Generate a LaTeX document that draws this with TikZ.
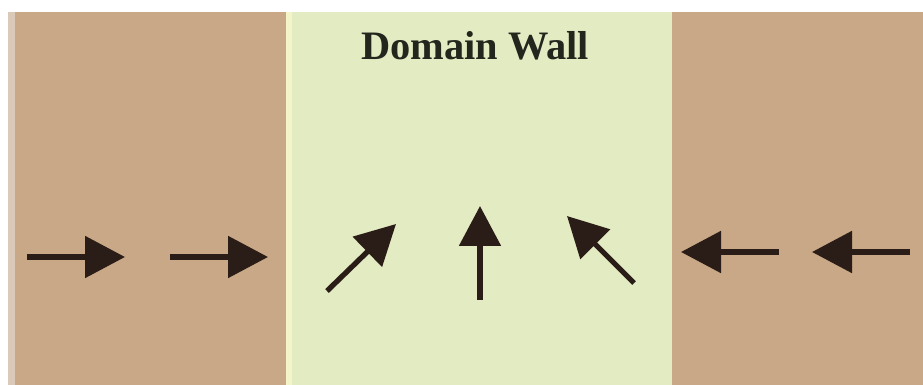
\documentclass[tikz,border=0pt]{standalone}
\usepackage{fontspec}
\setmainfont{Liberation Serif}
\usetikzlibrary{arrows.meta}

\definecolor{tan}{HTML}{C9A887}
\definecolor{wallgreen}{HTML}{E3EBC2}
\definecolor{spin}{HTML}{2A1C16}
\definecolor{titleink}{HTML}{22261C}

\begin{document}
\begin{tikzpicture}[x=0.02cm, y=-0.02cm,
  spinarrow/.style={draw=spin, line width=3pt,
    -{Triangle[length=0.8cm, width=0.82cm, fill=spin]}}]

  \useasboundingbox (0,0) rectangle (923,385);
  \fill[white] (0,0) rectangle (923,385);

  % dominios y pared
  \fill[tan]       (8,12)   rectangle (286,385);
  \fill[wallgreen] (286,12) rectangle (672,385);
  \fill[tan]       (672,12) rectangle (923,385);
  \fill[black!8, opacity=0.5] (8,12) rectangle (15,385);
  \fill[yellow!20, opacity=0.6] (286,12) rectangle (292,385);

  \node[font=\bfseries\fontsize{23}{26}\selectfont, text=titleink] (title)
    at (475,46) {Domain Wall};

  % dominio izquierdo
  \coordinate (l1a) at (27,257);  \coordinate (l1b) at (125,257);
  \coordinate (l2a) at (170,257); \coordinate (l2b) at (268,257);
  \draw[spinarrow] (l1a) -- (l1b);
  \draw[spinarrow] (l2a) -- (l2b);

  % pared
  \coordinate (m1a) at (327,291); \coordinate (m1b) at (396,224);
  \coordinate (m2a) at (480,300); \coordinate (m2b) at (480,206);
  \coordinate (m3a) at (634,283); \coordinate (m3b) at (567,216);
  \draw[spinarrow] (m1a) -- (m1b);
  \draw[spinarrow] (m2a) -- (m2b);
  \draw[spinarrow] (m3a) -- (m3b);

  % dominio derecho
  \coordinate (r1a) at (779,252); \coordinate (r1b) at (681,252);
  \coordinate (r2a) at (910,252); \coordinate (r2b) at (812,252);
  \draw[spinarrow] (r1a) -- (r1b);
  \draw[spinarrow] (r2a) -- (r2b);
\end{tikzpicture}
\end{document}
